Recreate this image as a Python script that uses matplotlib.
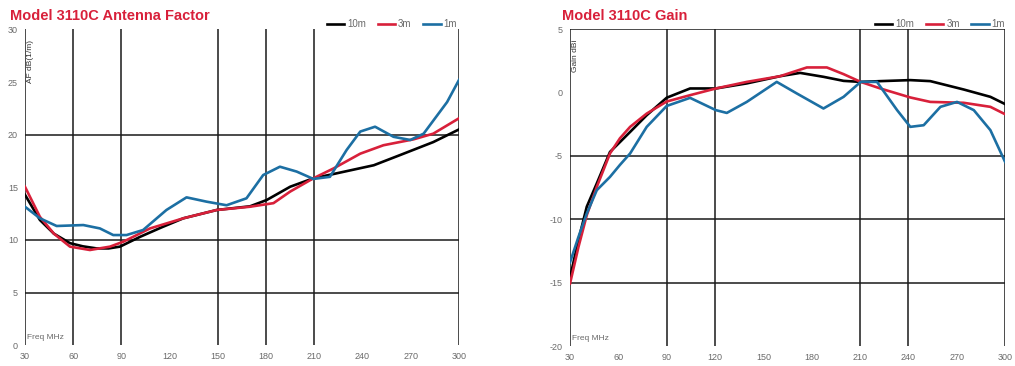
import matplotlib
matplotlib.use("Agg")
import matplotlib.pyplot as plt

plt.rcParams['font.family'] = ['Liberation Sans Narrow', 'Liberation Sans', 'DejaVu Sans']
plt.rcParams['axes.unicode_minus'] = False

# ---- antenna factor (left) ----
af_f10 = [30, 39.3, 48, 58, 66, 74.6, 82, 89.1, 101.6, 115, 128.5, 149.3, 170, 180.4, 195, 209.4, 222, 247, 263.4, 284, 300]
af_10m = [14.3, 11.9, 10.6, 9.7, 9.4, 9.2, 9.2, 9.37, 10.3, 11.2, 12.06, 12.85, 13.2, 13.8, 15.06, 15.86, 16.27, 17.1, 18.07, 19.3, 20.5]

af_f3 = [30, 39.3, 48, 58, 70.4, 82.9, 91.2, 107.8, 128.5, 149.3, 170, 184.6, 195, 209.4, 222, 238.6, 253, 271.7, 284, 300]
af_3m = [15.06, 12.2, 10.6, 9.37, 9.05, 9.37, 9.84, 11.1, 12.06, 12.85, 13.16, 13.5, 14.6, 15.86, 16.8, 18.2, 19.0, 19.56, 20.1, 21.56]

af_f1 = [30, 39.3, 49.7, 66.3, 76.6, 84.9, 93.2, 103.5, 118, 130.5, 143, 155.4, 167.8, 178.2, 188.6,
         199, 209.4, 219.7, 230.1, 238.6, 247.8, 259.3, 269.7, 278, 292.6, 300]
af_1m = [13.16, 12.06, 11.33, 11.42, 11.1, 10.47, 10.47, 10.95, 12.85, 14.05, 13.64, 13.3, 13.96, 16.17, 16.96,
         16.5, 15.8, 16.0, 18.55, 20.3, 20.76, 19.8, 19.5, 20.1, 23.1, 25.2]

# ---- gain (right) ----
g_f10 = [30, 35.2, 40.4, 46.6, 54.8, 61, 67.3, 77.6, 90, 104.5, 120.5, 139.7, 160.4, 172.8, 187.3, 199.8, 210.4,
         222.6, 241.2, 253.6, 274.3, 290.9, 300]
g_10m = [-14.6, -11.65, -9.0, -7.17, -4.68, -3.9, -3.1, -1.78, -0.4, 0.33, 0.33, 0.73, 1.3, 1.56, 1.25, 0.93, 0.85,
         0.91, 0.99, 0.91, 0.25, -0.33, -0.9]

g_f3 = [30, 35.2, 40.4, 46.6, 54.8, 61, 67.3, 77.6, 90, 104.5, 120.5, 139.7, 160.4, 177, 189.4, 199.8, 210.4,
        222.6, 241.2, 253.6, 274.3, 290.9, 300]
g_3m = [-15.07, -12.2, -9.67, -7.44, -4.8, -3.6, -2.7, -1.65, -0.7, -0.2, 0.33, 0.85, 1.3, 1.99, 1.99, 1.46, 0.85,
        0.33, -0.38, -0.73, -0.8, -1.12, -1.7]

g_f1 = [30, 35.2, 40.4, 46.6, 54.8, 61, 67.3, 77.6, 90, 104.5, 120.5, 127.3, 139.7, 158.3, 170.7, 187.3, 199.8, 210.4,
        220.5, 233, 241.2, 249.5, 259.9, 270.2, 280.6, 290.9, 300]
g_1m = [-13.4, -11.4, -9.54, -7.7, -6.65, -5.7, -4.8, -2.7, -1.05, -0.41, -1.38, -1.6, -0.73, 0.85, -0.06, -1.25,
        -0.33, 0.85, 0.85, -1.38, -2.7, -2.57, -1.12, -0.73, -1.38, -2.96, -5.46]

xticks = [30, 60, 90, 120, 150, 180, 210, 240, 270, 300]

RED = '#d8203a'
BLUE = '#1c6fa3'
GRID = '#1a1a1a'
TXT = '#6a6a6a'

fig = plt.figure(figsize=(10.15, 3.66), dpi=100)
ax1 = fig.add_axes([0.0246, 0.0566, 0.4276, 0.863])
ax2 = fig.add_axes([0.5616, 0.0546, 0.4286, 0.8653])


def style(ax, ylim, yticks, vlines, hlines):
    ax.set_xlim(30, 300)
    ax.set_ylim(*ylim)
    for s in ax.spines.values():
        s.set_visible(False)
    for v in vlines:
        ax.axvline(v, color=GRID, lw=1.1, zorder=1)
    for h in hlines:
        ax.axhline(h, color=GRID, lw=1.1, zorder=1)
    ax.set_xticks(xticks)
    ax.set_yticks(yticks)
    ax.tick_params(length=0, labelsize=6.5, labelcolor=TXT, pad=5)
    ax.text(31.5, ylim[0] + (ylim[1] - ylim[0]) * 0.012, 'Freq MHz', fontsize=6, color=TXT, va='bottom')


style(ax1, (0, 30), [0, 5, 10, 15, 20, 25, 30], [30, 60, 90, 150, 180, 210, 300], [5, 10, 20])
style(ax2, (-20, 5), [-20, -15, -10, -5, 0, 5], [30, 90, 120, 210, 240, 300], [-15, -10, -5, 5])

ax1.plot(af_f10, af_10m, color='black', lw=1.9, label='10m', zorder=3)
ax1.plot(af_f3, af_3m, color=RED, lw=1.9, label='3m', zorder=3)
ax1.plot(af_f1, af_1m, color=BLUE, lw=1.9, label='1m', zorder=3)

ax2.plot(g_f10, g_10m, color='black', lw=1.9, label='10m', zorder=3)
ax2.plot(g_f3, g_3m, color=RED, lw=1.9, label='3m', zorder=3)
ax2.plot(g_f1, g_1m, color=BLUE, lw=1.9, label='1m', zorder=3)

ax1.text(33.5, 29, 'AF dB(1/m)', rotation=90, fontsize=6, color='#333333', va='top', ha='center')
ax2.text(33.5, 4.2, 'Gain dBi', rotation=90, fontsize=6, color='#333333', va='top', ha='center')

for ax, bx in [(ax1, 1.0), (ax2, 1.005)]:
    leg = ax.legend(loc='lower right', bbox_to_anchor=(bx, 0.995), ncol=3, frameon=False,
                    fontsize=7, handlelength=1.8, handletextpad=0.3, columnspacing=1.2,
                    borderaxespad=0, borderpad=0.2)
    for t in leg.get_texts():
        t.set_color(TXT)

fig.text(0.01, 0.955, 'Model 3110C Antenna Factor', color=RED, fontsize=10.5, fontweight='bold', va='center')
fig.text(0.554, 0.955, 'Model 3110C Gain', color=RED, fontsize=10.5, fontweight='bold', va='center')

fig.savefig('out.png', dpi=100)
